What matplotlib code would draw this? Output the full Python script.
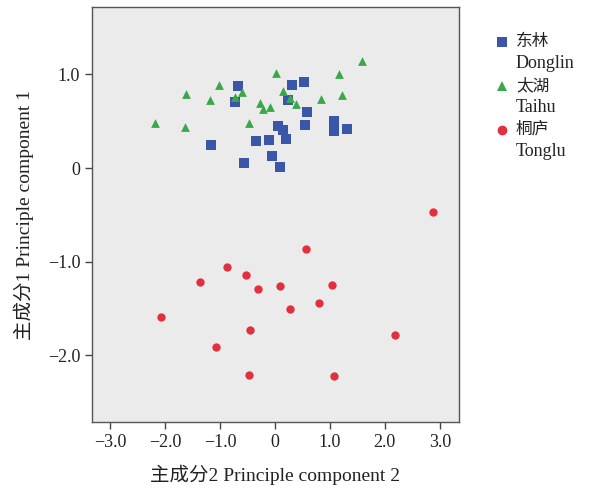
import matplotlib
matplotlib.use("Agg")
import matplotlib.pyplot as plt
from matplotlib.lines import Line2D

plt.rcParams['font.family'] = ['Liberation Serif', 'Noto Sans CJK SC']

# Data: (PC2, PC1)
donglin_x = [-0.68, -0.73, 0.31, 0.53, 0.23, 0.59, 0.55, 1.07, 1.07, 1.32,
             0.06, 0.15, 0.21, -0.10, -0.35, -1.17, -0.06, -0.57, 0.10]
donglin_y = [0.875, 0.71, 0.89, 0.92, 0.73, 0.60, 0.46, 0.50, 0.40, 0.42,
             0.445, 0.41, 0.31, 0.30, 0.29, 0.245, 0.125, 0.06, 0.01]

taihu_x = [1.59, 0.02, 1.16, -1.01, -1.62, -1.19, -0.60, -0.72, -0.27, -0.22,
           -0.09, 0.15, 0.27, 0.39, 0.84, 1.22, -2.18, -1.64, -0.47]
taihu_y = [1.145, 1.02, 1.01, 0.89, 0.79, 0.73, 0.81, 0.76, 0.70, 0.63,
           0.65, 0.82, 0.75, 0.68, 0.74, 0.78, 0.48, 0.44, 0.48]

tonglu_x = [2.87, 0.56, -0.87, -0.52, -1.36, -0.30, 0.09, 1.04, 0.81, 0.27,
            -2.07, -0.45, 2.19, -1.08, -0.47, 1.07]
tonglu_y = [-0.47, -0.86, -1.06, -1.14, -1.22, -1.29, -1.26, -1.25, -1.44, -1.50,
            -1.59, -1.73, -1.78, -1.91, -2.21, -2.22]

xticks = [-3, -2, -1, 0, 1, 2, 3]
xticklabels = ['−3.0', '−2.0', '−1.0', '0', '1.0', '2.0', '3.0']
yticks = [1, 0, -1, -2]
yticklabels = ['1.0', '0', '−1.0', '−2.0']

blue = '#3a56a8'
green = '#3aa84a'
red = '#e2303e'

fig = plt.figure(figsize=(5.9, 4.9), dpi=100)
W, H = 590, 490
ax = fig.add_axes([92 / W, 1 - 422 / H, (459 - 92) / W, (422 - 7) / H])
ax.set_facecolor('#ebebeb')

ax.scatter(donglin_x, donglin_y, marker='s', s=42, color=blue, linewidths=0, zorder=3)
ax.scatter(taihu_x, taihu_y, marker='^', s=40, color=green, linewidths=0, zorder=3)
ax.scatter(tonglu_x, tonglu_y, marker='o', s=36, color=red, linewidths=0, zorder=3)

ax.set_xlim(-3.33, 3.35)
ax.set_ylim(-2.71, 1.72)
ax.set_xticks(xticks)
ax.set_xticklabels(xticklabels, fontsize=13)
ax.set_yticks(yticks)
ax.set_yticklabels(yticklabels, fontsize=13)
ax.tick_params(direction='out', length=5, width=1, color='#444444', labelcolor='#222222')
for sp in ax.spines.values():
    sp.set_color('#555555')
    sp.set_linewidth(1.0)

ax.set_xlabel('主成分2 Principle component 2', fontsize=14, color='#222222', labelpad=10)
ax.set_ylabel('主成分1 Principle component 1', fontsize=14, color='#222222', labelpad=10)

# Legend (manual)
entries = [('s', blue, '东林', 'Donglin', 42),
           ('^', green, '太湖', 'Taihu', 86),
           ('o', red, '桐庐', 'Tonglu', 130)]
for m, c, zh, en, ypx in entries:
    fig.add_artist(Line2D([502 / W], [1 - ypx / H], marker=m, color=c, markersize=7,
                          linestyle='none', markeredgewidth=0, transform=fig.transFigure))
    fig.text(516 / W, 1 - ypx / H, zh, fontsize=12, va='center', ha='left', color='#222222')
    fig.text(516 / W, 1 - (ypx + 22) / H, en, fontsize=13, va='center', ha='left', color='#222222')

fig.savefig('out.png', dpi=100, facecolor='white')
